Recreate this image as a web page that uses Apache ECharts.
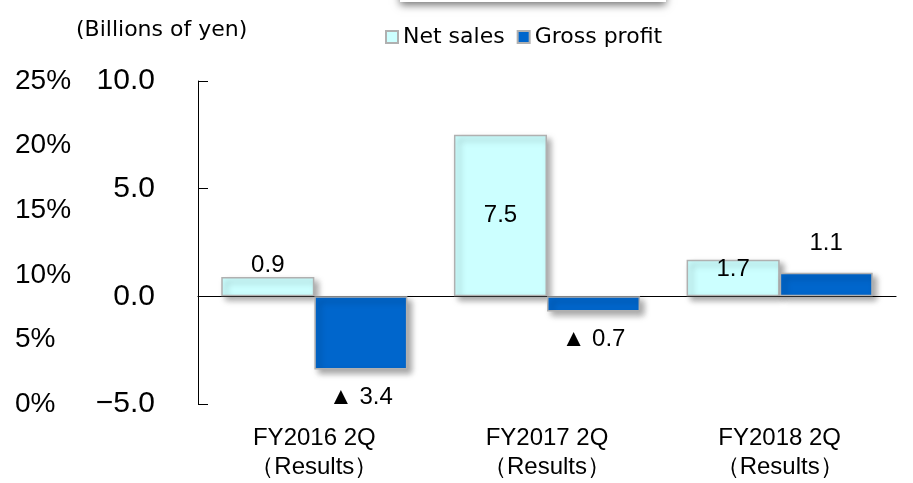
<!DOCTYPE html>
<html>
<head>
<meta charset="utf-8">
<script src="https://cdn.jsdelivr.net/npm/echarts@6/dist/echarts.min.js"></script>
<style>
  html, body { margin: 0; padding: 0; background: #fff; }
  #chart { width: 913px; height: 483px; }
</style>
</head>
<body>
<div id="chart"></div>
<script>
// data (billions of yen)
const categories = ['FY2016 2Q\n（Results）', 'FY2017 2Q\n（Results）', 'FY2018 2Q\n（Results）']
const netSales = [0.9, 7.5, 1.7]
const grossProfit = [-3.4, -0.7, 1.1]

const numFont = 'Liberation Sans, Arial, sans-serif'
const txtFont = 'DejaVu Sans, Verdana, sans-serif'

// labels: negatives shown with a triangle
const fmt = v => v < 0 ? '▲ ' + Math.abs(v).toFixed(1) : v.toFixed(1)

const salesData = netSales.map(v => ({
  value: v,
  label: v < 1 ? { position: 'top', distance: 0 }
       : v < 3 ? { position: 'insideTop', distance: -2 }
       : { position: 'inside' }
}))
const grossData = grossProfit.map(v => ({
  value: v,
  label: v < 0 ? { position: 'bottom', distance: 16 } : { position: 'top', distance: 17 }
}))

const barShadow = {
  shadowBlur: 6,
  shadowOffsetX: 4,
  shadowOffsetY: 4,
  shadowColor: 'rgba(0,0,0,0.35)'
}

var myChart = echarts.init(document.getElementById('chart'), null, { width: 913, height: 483 })

myChart.setOption({
  animation: false,
  textStyle: { fontFamily: numFont },
  grid: { left: 198, right: 17, top: 81, bottom: 79 },
  graphic: [
    {
      type: 'rect',
      shape: { x: 400, y: -40, width: 266, height: 42 },
      style: { fill: '#fff', shadowBlur: 8, shadowOffsetY: 3, shadowColor: 'rgba(0,0,0,0.55)' }
    },
    {
      type: 'text',
      left: 76,
      top: 19,
      style: { text: '(Billions of yen)', font: '22px ' + txtFont, fill: '#000' }
    }
  ],
  legend: {
    left: 380,
    top: 21,
    itemWidth: 12,
    itemHeight: 12,
    itemGap: 12,
    icon: 'rect',
    textStyle: { fontFamily: txtFont, fontSize: 22, color: '#000' },
    data: ['Net sales', 'Gross profit']
  },
  xAxis: [
    {
      type: 'category',
      data: categories,
      axisLine: { show: false, onZero: false },
      axisTick: { show: false },
      axisLabel: { color: '#000', fontSize: 24, lineHeight: 29, margin: 20, interval: 0 }
    },
    {
      type: 'category',
      data: categories,
      position: 'bottom',
      axisLine: { onZero: true, onZeroAxisIndex: 0, lineStyle: { color: '#000', width: 1.2 } },
      axisTick: { inside: true, length: 7, lineStyle: { color: '#000' } },
      axisLabel: { show: false }
    }
  ],
  yAxis: [
    {
      type: 'value',
      min: -5,
      max: 10,
      interval: 5,
      axisLine: { show: true, lineStyle: { color: '#000' } },
      axisTick: { show: true, inside: true, length: 10, lineStyle: { color: '#000' } },
      splitLine: { show: false },
      axisLabel: { color: '#000', fontSize: 30, margin: 43, formatter: v => v.toFixed(1).replace('-', '−') }
    },
    {
      type: 'value',
      min: 0,
      max: 25,
      interval: 5,
      position: 'left',
      offset: 183,
      axisLine: { show: false },
      axisTick: { show: false },
      splitLine: { show: false },
      axisLabel: { color: '#000', fontSize: 28, margin: 0, align: 'left', formatter: '{value}%' }
    }
  ],
  series: [
    {
      name: 'Net sales',
      type: 'bar',
      data: salesData,
      barCategoryGap: '20%',
      barGap: '0%',
      itemStyle: Object.assign({ color: '#CCFFFF', borderColor: '#b0b0b0', borderWidth: 1.5 }, barShadow),
      label: { show: true, color: '#000', fontSize: 24, formatter: p => fmt(p.value) }
    },
    {
      name: 'Gross profit',
      type: 'bar',
      data: grossData,
      barGap: '0%',
      itemStyle: Object.assign({ color: '#0066CC', borderColor: '#b0b0b0', borderWidth: 1.5 }, barShadow),
      label: { show: true, color: '#000', fontSize: 24, formatter: p => fmt(p.value) }
    }
  ]
})
</script>
</body>
</html>
